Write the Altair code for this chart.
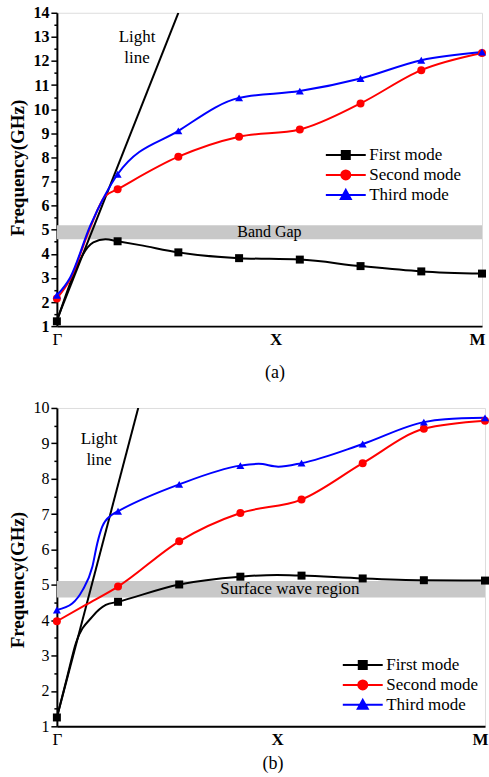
import altair as alt
import pandas as pd

# ---------------- data ----------------
modes = ["First mode", "Second mode", "Third mode"]
mode_colors = ["#000000", "#ff0000", "#0000ff"]
mode_shapes = ["square", "circle", "triangle-up"]

x_marks = [0, 1, 2, 3, 4, 5, 6, 7]

# panel (a)
a_first = [1.2, 4.52, 4.06, 3.82, 3.76, 3.49, 3.27, 3.18]
a_second = [2.15, 6.68, 8.03, 8.86, 9.16, 10.24, 11.62, 12.33]
a_third = [2.28, 7.3, 9.1, 10.47, 10.75, 11.27, 12.03, 12.37]
# unmarked curve points
a_first_x = [0.6, 0.8, 1.37]
a_first_v = [4.47, 4.6, 4.36]
a_second_x = [0.22, 0.55, 0.79]
a_second_v = [2.95, 5.1, 6.38]
a_third_x = [0.22, 0.55, 0.79]
a_third_v = [3.02, 5.17, 6.42]
a_light_x = [0, 2.0]
a_light_v = [1.25, 14]
a_band = [4.6, 5.18]

# panel (b)
b_first = [1.25, 4.52, 5.01, 5.23, 5.26, 5.18, 5.13, 5.12]
b_second = [3.97, 4.95, 6.23, 7.03, 7.41, 8.44, 9.41, 9.64]
b_third = [4.29, 7.08, 7.84, 8.37, 8.44, 8.98, 9.6, 9.72]
b_first_x = [0.17, 0.31, 0.58, 0.8, 3.6]
b_first_v = [2.41, 3.35, 4.1, 4.43, 5.28]
b_second_x = [0.47]
b_second_v = [4.43]
b_third_x = [0.25, 0.42, 0.58, 0.66, 0.74, 0.9, 3.3, 3.62, 6.35]
b_third_v = [4.47, 4.85, 5.51, 6.17, 6.64, 6.98, 8.42, 8.34, 9.68]
b_light_x = [0, 1.33]
b_light_v = [1.25, 10]
b_band = [4.64, 5.11]

x_tick_values = [0, 3.6, 7]
x_tick_labels = ["Γ", "X", "M"]

FONT = "Liberation Serif"

# legend symbols: a short line with the marker on it (unit = sqrt(size)/2 px)
leg_paths = [
    "M-1,0H7M2.2,-0.8H3.8V0.8H2.2Z",
    "M-1,0H7M2.1,0A0.9,0.9,0,1,0,3.9,0A0.9,0.9,0,1,0,2.1,0Z",
    "M-1,0H7M3,-1L4,0.8H2Z",
]

color_expr = ("datum.value === '" + modes[0] + "' ? '" + mode_colors[0] + "' : (datum.value === '"
              + modes[1] + "' ? '" + mode_colors[1] + "' : '" + mode_colors[2] + "')")


def curves_frame(marked, extras):
    rows = []
    for m, vals, (ex, ev) in zip(modes, marked, extras):
        for x, v in zip(x_marks, vals):
            rows.append({"x": x, "v": v, "mode": m, "marker": True})
        for x, v in zip(ex, ev):
            rows.append({"x": x, "v": v, "mode": m, "marker": False})
    return pd.DataFrame(rows)


def panel(df, light_x, light_v, band, band_text, band_tx, band_fs, ydom,
          width, height, title_letter, light_tx, light_ty, leg_x, leg_y,
          tick_bold, title_y, title_x, title_pad):
    xs = alt.Scale(domain=[0, 7], nice=False, zero=False)
    ys = alt.Scale(domain=ydom, nice=False, zero=False)
    yvals = []
    v = ydom[0]
    while v <= ydom[1] + 1e-9:
        yvals.append(round(v, 2))
        v += 0.5
    label_expr = ("datum.value === 0 ? '" + x_tick_labels[0] + "' : (datum.value < 5 ? '"
                  + x_tick_labels[1] + "' : '" + x_tick_labels[2] + "')")
    x_axis = alt.Axis(values=x_tick_values, labelExpr=label_expr, ticks=False,
                      labelFont=FONT, titleFont=FONT,
                      labelFontSize=17, labelPadding=5, labelFlush=False,
                      labelOverlap=False, labelColor="#000000", titleColor="#000000",
                      labelFontWeight={"condition": {"test": "datum.value === 0", "value": "normal"},
                                       "value": "bold"},
                      labelOffset={"condition": {"test": "datum.value === 7", "value": -5},
                                   "value": 0},
                      title=title_letter, titleFontSize=18, titleFontWeight="normal",
                      titlePadding=title_pad, titleX=title_x, grid=False,
                      domainColor="#000000", domainWidth=2)
    y_axis = alt.Axis(values=yvals,
                      labelExpr="datum.value % 1 === 0 ? format(datum.value, 'd') : ''",
                      tickSize={"condition": {"test": "datum.value % 1 === 0", "value": 6}, "value": 3},
                      tickColor="#000000", tickWidth=1.5,
                      labelFont=FONT, titleFont=FONT, labelColor="#000000", titleColor="#000000",
                      labelFontSize=16,
                      labelFontWeight="bold" if tick_bold else "normal",
                      labelPadding=2, labelOverlap=False, labelFlush=False,
                      title="Frequency(GHz)", titleFontSize=19, titleFontWeight="bold",
                      titlePadding=5, titleY=title_y, grid=False,
                      domainColor="#000000", domainWidth=2)

    X = alt.X("x:Q", scale=xs, axis=x_axis)
    Y = alt.Y("v:Q", scale=ys, axis=y_axis)

    band_df = pd.DataFrame({"x": [0], "v": [band[0]], "v2": [band[1]]})
    band_layer = alt.Chart(band_df).mark_rect(color="#c8c8c8").encode(
        x=X, x2=alt.value(width), y=Y, y2="v2:Q")

    bt_df = pd.DataFrame({"x": [band_tx], "v": [(band[0] + band[1]) / 2], "t": [band_text]})
    band_txt = alt.Chart(bt_df).mark_text(font=FONT, fontSize=band_fs, color="#000000").encode(
        x=X, y=Y, text="t:N")

    light_df = pd.DataFrame({"x": light_x, "v": light_v})
    light = alt.Chart(light_df).mark_line(color="#000000", strokeWidth=2, clip=True).encode(
        x=X, y=Y)

    cscale = alt.Scale(domain=modes, range=mode_colors)
    lines = alt.Chart(df).mark_line(interpolate="monotone", strokeWidth=2).encode(
        x=X, y=Y, color=alt.Color("mode:N", scale=cscale, legend=None), order="x:Q")

    pts = []
    for m, c, s in zip(modes, mode_colors, mode_shapes):
        pts.append(alt.Chart(df).transform_filter(
            (alt.datum.marker == True) & (alt.datum.mode == m)).mark_point(
            filled=True, size=64, opacity=1, shape=s, color=c).encode(x=X, y=Y))

    lt_df = pd.DataFrame({"x": [light_tx], "v": [light_ty], "t": ["Light\nline"]})
    light_txt = alt.Chart(lt_df).mark_text(font=FONT, fontSize=17, lineBreak="\n",
                                           lineHeight=21, color="#000000").encode(
        x=X, y=Y, text="t:N")

    leg = alt.Legend(orient="none", legendX=leg_x, legendY=leg_y, title=None,
                     labelFont=FONT, labelFontSize=17, labelColor="#000000",
                     symbolSize=100, symbolStrokeWidth=2, symbolOpacity=1,
                     symbolFillColor={"expr": color_expr},
                     symbolStrokeColor={"expr": color_expr},
                     labelOffset=30, rowPadding=2, padding=0)
    leg_df = pd.DataFrame({"mode": modes, "x": [0, 0, 0], "v": [ydom[0]] * 3})
    leg_layer = alt.Chart(leg_df).transform_filter("false").mark_point(filled=True).encode(
        x=X, y=Y,
        color=alt.Color("mode:N", scale=cscale, legend=None),
        shape=alt.Shape("mode:N", scale=alt.Scale(domain=modes, range=leg_paths), legend=leg))

    return alt.layer(band_layer, band_txt, light, lines, *pts, light_txt, leg_layer).resolve_scale(
        shape="independent").properties(width=width, height=height)


df_a = curves_frame([a_first, a_second, a_third],
                    [(a_first_x, a_first_v), (a_second_x, a_second_v), (a_third_x, a_third_v)])
df_b = curves_frame([b_first, b_second, b_third],
                    [(b_first_x, b_first_v), (b_second_x, b_second_v), (b_third_x, b_third_v)])

pa = panel(df_a, a_light_x, a_light_v, a_band, "Band Gap", 3.5, 16, [1, 14],
           426, 314, "(a)", 1.32, 12.98, 266, 134, True, 155, 218, 16)
pb = panel(df_b, b_light_x, b_light_v, b_band, "Surface wave region", 3.81, 17, [1, 10],
           429, 319, "(b)", 0.69, 9.12, 283, 249, False, 172, 216, 7)

chart = alt.vconcat(pa, pb, spacing=17).properties(
    padding={"top": 3, "left": 8, "right": -1, "bottom": 0}
).configure_view(stroke="#000000", strokeWidth=2).configure(background="#ffffff")

chart.save("out.html", embed_options={"renderer": "svg", "actions": False})
